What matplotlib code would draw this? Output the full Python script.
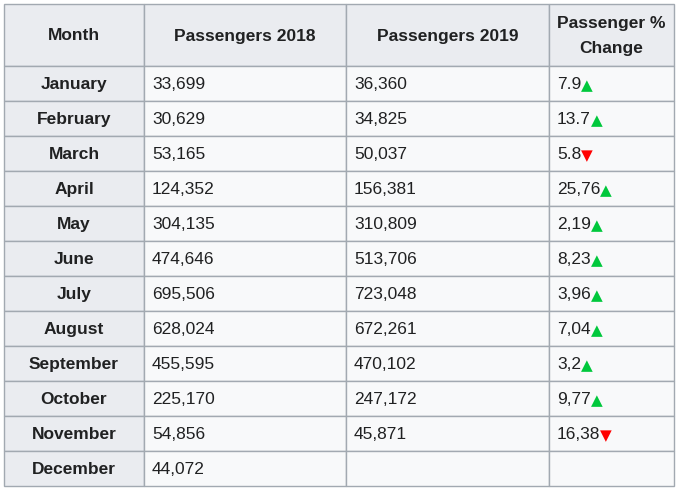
import matplotlib
matplotlib.use("Agg")
import matplotlib.pyplot as plt
from matplotlib.patches import Rectangle

months = ["January", "February", "March", "April", "May", "June", "July",
          "August", "September", "October", "November", "December"]
pass_2018 = ["33,699", "30,629", "53,165", "124,352", "304,135", "474,646",
             "695,506", "628,024", "455,595", "225,170", "54,856", "44,072"]
pass_2019 = ["36,360", "34,825", "50,037", "156,381", "310,809", "513,706",
             "723,048", "672,261", "470,102", "247,172", "45,871", ""]
pct_change = ["7.9", "13.7", "5.8", "25,76", "2,19", "8,23", "3,96",
              "7,04", "3,2", "9,77", "16,38", ""]
direction = ["up", "up", "down", "up", "up", "up", "up", "up", "up", "up", "down", ""]
headers = ["Month", "Passengers 2018", "Passengers 2019", "Passenger %\nChange"]

W, H = 680, 490
fig = plt.figure(figsize=(W / 100, H / 100), dpi=100)
ax = fig.add_axes([0, 0, 1, 1])
ax.set_xlim(0, W)
ax.set_ylim(H, 0)
ax.axis("off")

col_x = [4, 144, 346, 549, 674]
header_top, header_bot = 4, 66
row_h = 35
border = "#a2a9b1"
head_bg = "#eaecf0"
cell_bg = "#f8f9fa"
txt = "#202122"
fam = ["Liberation Sans", "DejaVu Sans"]
fs = 12.5

# header
for i, h in enumerate(headers):
    ax.add_patch(Rectangle((col_x[i], header_top), col_x[i + 1] - col_x[i],
                           header_bot - header_top, facecolor=head_bg,
                           edgecolor=border, lw=1))
    ax.text((col_x[i] + col_x[i + 1]) / 2, (header_top + header_bot) / 2 + 1, h,
            ha="center", va="center", fontsize=fs, fontweight="bold",
            color=txt, family=fam, linespacing=1.8)

for r, m in enumerate(months):
    y0 = header_bot + r * row_h
    yc = y0 + row_h / 2 + 1
    for c in range(4):
        ax.add_patch(Rectangle((col_x[c], y0), col_x[c + 1] - col_x[c], row_h,
                               facecolor=head_bg if c == 0 else cell_bg,
                               edgecolor=border, lw=1))
    ax.text((col_x[0] + col_x[1]) / 2, yc, m, ha="center", va="center",
            fontsize=fs, fontweight="bold", color=txt, family=fam)
    ax.text(col_x[1] + 8, yc, pass_2018[r], ha="left", va="center",
            fontsize=fs, color=txt, family=fam)
    ax.text(col_x[2] + 8, yc, pass_2019[r], ha="left", va="center",
            fontsize=fs, color=txt, family=fam)
    if pct_change[r]:
        t = ax.text(col_x[3] + 8, yc, pct_change[r], ha="left", va="center",
                    fontsize=fs, color=txt, family=fam)
        sym = "▲" if direction[r] == "up" else "▼"
        colr = "#00c83c" if direction[r] == "up" else "#ff0000"
        ax.annotate(sym, xy=(1, 0.5), xycoords=t, ha="left", va="center",
                    fontsize=fs - 1.5, color=colr, family=["DejaVu Sans"],
                    xytext=(0, -1), textcoords="offset points")

fig.savefig("out.png", dpi=100, facecolor="white")
